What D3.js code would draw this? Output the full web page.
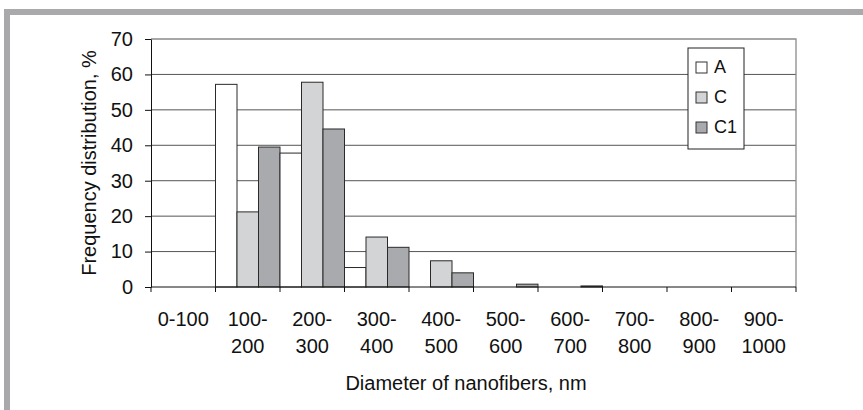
<!doctype html>
<html>
<head>
<meta charset="utf-8">
<script src="https://cdnjs.cloudflare.com/ajax/libs/d3/7.8.5/d3.min.js"></script>
<style>
    body { margin: 0; background: #fff; }
    svg { display: block; font-family: 'Liberation Sans', Arial, sans-serif; }
    text { fill: #111; }
</style>
</head>
<body>
<div id="chart"></div>
<script>
    var categories = ["0-100", "100-200", "200-300", "300-400", "400-500", "500-600", "600-700", "700-800", "800-900", "900-1000"]
    var seriesNames = ["A", "C", "C1"]
    var valuesA = [0, 57.2, 37.8, 5.5, 0, 0, 0, 0, 0, 0]
    var valuesC = [0, 21.2, 57.8, 14.1, 7.4, 0, 0, 0, 0, 0]
    var valuesC1 = [0, 39.5, 44.6, 11.2, 4.0, 0.8, 0.3, 0, 0, 0]
    var yTicks = [0, 10, 20, 30, 40, 50, 60, 70]

    var width = 863, height = 410
    var margin = { top: 39, right: 67, bottom: 123, left: 151 }
    var colors = { "A": "#ffffff", "C": "#d3d4d6", "C1": "#a9aaad" }

    var data = categories.map((c, i) => ({ cat: c, A: valuesA[i], C: valuesC[i], C1: valuesC1[i] }))

    var svg = d3.select("#chart").append("svg").attr("width", width).attr("height", height)

    // grey frame round the figure (top and left only)
    svg.append("rect").attr("x", 4).attr("y", 9).attr("width", width - 4).attr("height", 6).attr("fill", "#a9a9ab")
    svg.append("rect").attr("x", 4).attr("y", 9).attr("width", 6).attr("height", height - 9).attr("fill", "#a9a9ab")

    var xScale = d3.scaleBand(categories, [margin.left, width - margin.right]).padding(0)
    var xInner = d3.scaleBand(seriesNames, [0, xScale.bandwidth()]).padding(0)
    var yScale = d3.scaleLinear([0, 70], [height - margin.bottom, margin.top])

    // gridlines
    svg.append("g").selectAll("line")
        .data(yTicks.filter(d => d > 0 && d < 70))
        .join("line")
        .attr("x1", margin.left).attr("x2", width - margin.right)
        .attr("y1", d => yScale(d)).attr("y2", d => yScale(d))
        .attr("stroke", "#555").attr("stroke-width", 1)

    // plot border top + right
    svg.append("path")
        .attr("d", `M${margin.left},${yScale(70)}H${width - margin.right}V${yScale(0)}`)
        .attr("fill", "none").attr("stroke", "#8a8a8c").attr("stroke-width", 1.3)

    // bars
    var groups = svg.append("g").selectAll("g")
        .data(data)
        .join("g")
        .attr("transform", d => `translate(${xScale(d.cat)},0)`)

    groups.selectAll("rect")
        .data(d => seriesNames.map(k => ({ key: k, value: d[k] })).filter(e => e.value > 0))
        .join("rect")
        .attr("x", d => xInner(d.key))
        .attr("y", d => yScale(d.value))
        .attr("width", xInner.bandwidth())
        .attr("height", d => yScale(0) - yScale(d.value))
        .attr("fill", d => colors[d.key])
        .attr("stroke", "#2a2a2a").attr("stroke-width", 1)

    // y axis
    var yAxis = d3.axisLeft(yScale).tickValues(yTicks).tickSize(6).tickSizeOuter(0).tickPadding(12)
    var yG = svg.append("g").attr("transform", `translate(${margin.left},0)`).call(yAxis)
    yG.select(".domain").attr("stroke", "#111")
    yG.selectAll(".tick line").attr("stroke", "#111")
    yG.selectAll(".tick text").attr("font-size", 20).attr("font-family", null).attr("fill", "#111")

    // x axis: ticks at band boundaries
    var xG = svg.append("g").attr("transform", `translate(0,${yScale(0)})`)
    xG.append("line").attr("x1", margin.left).attr("x2", width - margin.right)
        .attr("stroke", "#111")
    xG.selectAll(".xt")
        .data(categories.concat(["end"]))
        .join("line").attr("class", "xt")
        .attr("x1", (d, i) => margin.left + i * xScale.step())
        .attr("x2", (d, i) => margin.left + i * xScale.step())
        .attr("y1", 0).attr("y2", 5).attr("stroke", "#111")

    var labels = xG.selectAll(".xl")
        .data(categories)
        .join("text").attr("class", "xl")
        .attr("text-anchor", "middle")
        .attr("font-size", 20)
        .attr("transform", d => `translate(${xScale(d) + xScale.bandwidth() / 2},0)`)
    labels.each(function (d) {
        var parts = d === "0-100" ? [d] : [d.split("-")[0] + "-", d.split("-")[1]]
        d3.select(this).selectAll("tspan").data(parts).join("tspan")
            .attr("x", 0).attr("y", (p, i) => 39 + i * 27).text(p => p)
    })

    // axis titles
    svg.append("text").attr("x", 466).attr("y", 390).attr("text-anchor", "middle")
        .attr("font-size", 20).text("Diameter of nanofibers, nm")
    svg.append("text").attr("transform", "translate(96,163) rotate(-90)").attr("text-anchor", "middle")
        .attr("font-size", 20).text("Frequency distribution, %")

    // legend
    var legend = svg.append("g").attr("transform", "translate(688,48)")
    legend.append("rect").attr("width", 56).attr("height", 101).attr("fill", "#fff").attr("stroke", "#222")
    legend.selectAll(".sw").data(seriesNames).join("rect").attr("class", "sw")
        .attr("x", 8).attr("y", (d, i) => 14 + i * 30).attr("width", 11).attr("height", 11)
        .attr("fill", d => colors[d]).attr("stroke", "#333")
    legend.selectAll(".lt").data(seriesNames).join("text").attr("class", "lt")
        .attr("x", 26).attr("y", (d, i) => 25 + i * 30).attr("font-size", 18).text(d => d)
</script>
</body>
</html>
